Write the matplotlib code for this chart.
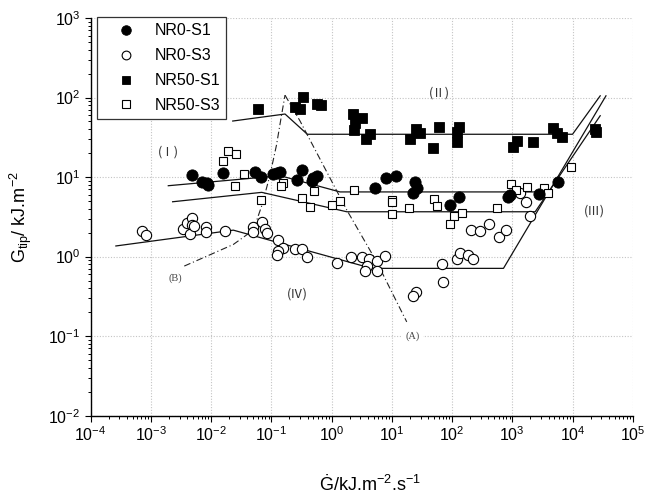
import matplotlib
matplotlib.use("Agg")
import matplotlib.pyplot as plt
from matplotlib.ticker import LogLocator, NullFormatter

plt.rcParams['font.family'] = ['Liberation Sans', 'DejaVu Sans']
plt.rcParams['mathtext.fontset'] = 'custom'
plt.rcParams['mathtext.rm'] = 'Liberation Sans'
plt.rcParams['mathtext.it'] = 'Liberation Sans:italic'
plt.rcParams['mathtext.bf'] = 'Liberation Sans:bold'

# ---------------- data ----------------
nr0_s1_x = [0.00491, 0.00698, 0.00845, 0.00897, 0.0156, 0.0536, 0.0662, 0.108, 0.124, 0.140,
            0.272, 0.320, 0.469, 0.499, 0.568, 5.18, 8.13, 11.8, 23.9, 26.0, 22.2, 93.1, 133,
            855, 906, 2830, 5720]
nr0_s1_y = [10.7, 8.73, 8.48, 7.93, 11.1, 11.6, 10.0, 10.9, 11.2, 11.7,
            9.17, 12.2, 8.98, 9.86, 10.4, 7.27, 9.71, 10.3, 8.78, 7.21, 6.35, 4.45, 5.69,
            5.69, 6.03, 6.08, 8.73]

nr0_s3_x = [0.000703, 0.00082, 0.00337, 0.00394, 0.00488, 0.00477, 0.00447, 0.00526, 0.00813, 0.00813,
            0.0172, 0.0488, 0.0714, 0.0497, 0.0785, 0.0839, 0.131, 0.158, 0.131, 0.123,
            0.248, 0.320, 0.396, 1.22, 2.08, 3.18, 4.25, 3.85, 3.60, 5.64,
            5.77, 7.74, 25.4, 22.9, 69.3, 71.9, 120, 136, 187, 222,
            208, 293, 403, 612, 792, 1680, 1980, 1318]
nr0_s3_y = [2.09, 1.86, 2.20, 2.62, 3.08, 2.49, 1.90, 2.42, 2.37, 2.01,
            2.11, 2.38, 2.74, 2.05, 2.25, 1.98, 1.60, 1.27, 1.17, 1.06,
            1.24, 1.23, 0.977, 0.836, 0.993, 0.977, 0.922, 0.760, 0.663, 0.885,
            0.663, 1.01, 0.361, 0.318, 0.805, 0.473, 0.931, 1.10, 1.04, 0.922,
            2.15, 2.11, 2.56, 1.75, 2.15, 4.81, 3.26, 6.35]

nr50_s1_x = [0.0608, 0.340, 0.248, 0.300, 0.568, 0.662, 2.30, 3.25, 2.45, 2.37,
             4.41, 3.70, 20.1, 25.4, 29.5, 61.8, 48.0, 133, 123, 123,
             1192, 1047, 2250, 4830, 5510, 6670, 23800, 24300]
nr50_s1_y = [71.1, 101, 75.3, 71.1, 82.9, 80.5, 61.5, 54.7, 47.3, 39.0,
             34.7, 30.1, 30.1, 40.2, 36.1, 42.9, 23.0, 42.9, 37.2, 27.8,
             28.6, 24.0, 27.8, 41.0, 35.5, 31.6, 40.7, 37.3]

nr50_s3_x = [0.0189, 0.0259, 0.0160, 0.0352, 0.0249, 0.0667, 0.155, 0.145, 0.320, 0.440,
             0.512, 1.01, 1.40, 2.34, 10.0, 10.2, 10.0, 19.1, 51.0, 56.0,
             108, 93.1, 146, 568, 959, 1161, 1750, 3350, 3950, 9400]
nr50_s3_y = [21.2, 19.5, 15.9, 10.9, 7.71, 5.21, 8.34, 7.71, 5.52, 4.16,
             6.76, 4.45, 4.99, 6.96, 5.14, 4.85, 3.42, 4.13, 5.26, 4.32,
             3.26, 2.54, 3.49, 4.07, 8.28, 6.86, 7.55, 7.21, 6.35, 13.2]

# trend lines (piecewise)
line_nr50_s1_x = [0.0229, 0.169, 0.396, 10000, 28800]
line_nr50_s1_y = [50.6, 62.0, 34.5, 34.5, 105]
line_nr0_s1_x = [0.00195, 0.140, 1.38, 3990]
line_nr0_s1_y = [7.78, 10.4, 6.5, 6.5]
line_nr50_s3_x = [0.0023, 0.0693, 1.79, 2400, 28800]
line_nr50_s3_y = [4.89, 6.42, 3.66, 3.66, 59.0]
line_nr0_s3_x = [0.000263, 0.0234, 4.66, 714, 35900]
line_nr0_s3_y = [1.36, 2.15, 0.711, 0.711, 105]

# dash-dot boundary curves
curve_b_x = [0.00359, 0.00845, 0.0234, 0.0502, 0.0701, 0.0951, 0.122, 0.148, 0.169]
curve_b_y = [0.76, 1.01, 1.42, 2.15, 4.45, 10.6, 25.3, 60.3, 107]
curve_a_x = [0.169, 0.300, 1.79, 5.64, 17.7]
curve_a_y = [107, 50.6, 3.85, 0.853, 0.151]

series_labels = ['NR0-S1', 'NR0-S3', 'NR50-S1', 'NR50-S3']

# ---------------- figure ----------------
fig = plt.figure(figsize=(6.47, 4.99), dpi=100)
ax = fig.add_axes([0.140, 0.167, 0.838, 0.797])
ax.set_xscale('log')
ax.set_yscale('log')
ax.set_xlim(1e-4, 1e5)
ax.set_ylim(1e-2, 1e3)

for s in ['top', 'right']:
    ax.spines[s].set_visible(False)
for s in ['left', 'bottom']:
    ax.spines[s].set_linewidth(1.0)

ax.xaxis.set_major_locator(LogLocator(base=10, numticks=20))
ax.yaxis.set_major_locator(LogLocator(base=10, numticks=20))
ax.xaxis.set_minor_locator(LogLocator(base=10, subs=range(2, 10), numticks=100))
ax.yaxis.set_minor_locator(LogLocator(base=10, subs=range(2, 10), numticks=100))
ax.xaxis.set_minor_formatter(NullFormatter())
ax.yaxis.set_minor_formatter(NullFormatter())
ax.tick_params(which='major', direction='out', length=4.2, width=0.8, labelsize=11.5, pad=3)
ax.tick_params(which='minor', direction='out', length=2.3, width=0.7)

ax.grid(True, which='major', color='#c4c4c4', linestyle=(0, (1, 1.5)), linewidth=0.8)
ax.set_axisbelow(True)

lk = dict(color='#111111', linewidth=0.9, zorder=2)
ax.plot(line_nr50_s1_x, line_nr50_s1_y, **lk)
ax.plot(line_nr0_s1_x, line_nr0_s1_y, **lk)
ax.plot(line_nr50_s3_x, line_nr50_s3_y, **lk)
ax.plot(line_nr0_s3_x, line_nr0_s3_y, **lk)

dk = dict(color='#222222', linewidth=0.8, linestyle=(0, (6, 2.5, 1, 2.5)), zorder=2)
ax.plot(curve_b_x, curve_b_y, **dk)
ax.plot(curve_a_x, curve_a_y, **dk)

ax.plot(nr0_s1_x, nr0_s1_y, 'o', ms=8.1, mfc='black', mec='black', mew=0.6,
        ls='none', zorder=4, label=series_labels[0])
ax.plot(nr0_s3_x, nr0_s3_y, 'o', ms=7.4, mfc='white', mec='black', mew=0.8,
        ls='none', zorder=3, label=series_labels[1])
ax.plot(nr50_s1_x, nr50_s1_y, 's', ms=6.9, mfc='black', mec='black', mew=0.6,
        ls='none', zorder=4, label=series_labels[2])
ax.plot(nr50_s3_x, nr50_s3_y, 's', ms=6.3, mfc='white', mec='black', mew=0.8,
        ls='none', zorder=3, label=series_labels[3])

leg = ax.legend(loc='upper left', bbox_to_anchor=(0.0116, 1.0025), borderaxespad=0,
                fontsize=11.5, frameon=True, fancybox=False, edgecolor='#333333',
                borderpad=0.4, labelspacing=0.62, handlelength=2.9, handletextpad=0.3,
                markerscale=0.85, numpoints=1)
leg.get_frame().set_linewidth(0.9)
leg.get_frame().set_facecolor('white')
leg.get_frame().set_alpha(1)

rk = dict(family=['Noto Sans CJK SC', 'DejaVu Sans'], fontsize=9, color='#333333',
          ha='center', va='center', zorder=5)
ax.text(0.00195, 20.8, '(Ⅰ)', **rk)
ax.text(61.8, 113, '(Ⅱ)', **rk)
ax.text(23200, 3.73, '(Ⅲ)', **rk)
ax.text(0.275, 0.337, '(Ⅳ)', **rk)

tk = dict(family=['Liberation Serif', 'DejaVu Serif'], fontsize=7.5, color='#444444',
          ha='center', va='center', zorder=5)
ax.text(22.3, 0.101, '(A)', bbox=dict(facecolor='white', edgecolor='none', pad=2.5), **tk)
ax.text(0.00258, 0.541, '(B)', **tk)

ax.set_xlabel(r'Ġ/kJ.m$^{-2}$.s$^{-1}$', fontsize=13)
ax.set_ylabel(r'G$_{\mathrm{tip}}$/ kJ.m$^{-2}$', fontsize=13)
ax.xaxis.set_label_coords(0.515, -0.15)
ax.yaxis.set_label_coords(-0.105, 0.5)

fig.savefig('out.png', dpi=100)
